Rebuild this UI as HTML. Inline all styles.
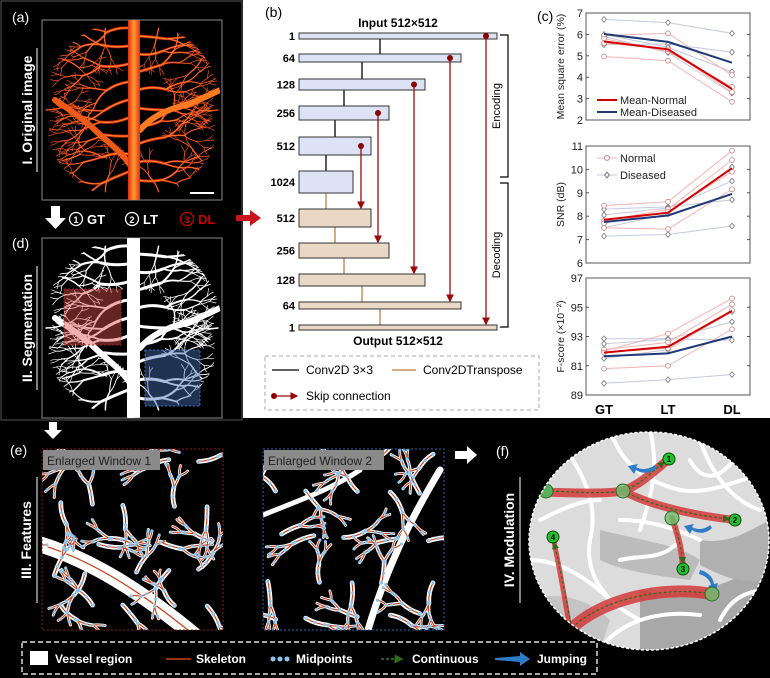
<!DOCTYPE html>
<html><head><meta charset="utf-8">
<style>
html,body{margin:0;padding:0;background:#000;}
svg{display:block;font-family:"Liberation Sans",Arial,sans-serif;}
</style></head>
<body>
<svg id="fig" width="770" height="678" viewBox="0 0 770 678" xmlns="http://www.w3.org/2000/svg">
<defs>
  <clipPath id="clipA"><ellipse cx="132" cy="110" rx="90" ry="90"/></clipPath>
  <clipPath id="clipD"><ellipse cx="132" cy="328" rx="90" ry="90"/></clipPath>
  <clipPath id="clipW1"><rect x="42" y="449" width="181" height="181"/></clipPath>
  <clipPath id="clipW2"><rect x="263" y="449" width="181" height="181"/></clipPath>
  <clipPath id="clipF"><ellipse cx="649" cy="541" rx="120" ry="109"/></clipPath>
  <marker id="arrR" markerWidth="6" markerHeight="6" refX="5" refY="3" orient="auto"><path d="M0,0 L6,3 L0,6 z" fill="#9b0a0a"/></marker>
  <marker id="arrG" markerWidth="6" markerHeight="6" refX="5" refY="3" orient="auto"><path d="M0,0 L6,3 L0,6 z" fill="#2f6a1f"/></marker>
  <linearGradient id="trunk" x1="0" x2="1"><stop offset="0" stop-color="#e03010"/><stop offset="0.5" stop-color="#ff9a30"/><stop offset="1" stop-color="#e03010"/></linearGradient>
</defs>

<rect x="0" y="0" width="770" height="678" fill="#000"/>
<rect x="243" y="0" width="527" height="418" fill="#fff"/>
<rect x="1" y="1" width="241" height="419" fill="none" stroke="#555" stroke-width="1"/>

<!-- Panel (a) -->
<text x="12" y="22" fill="#fff" font-size="14">(a)</text>
<g>
  <rect x="42" y="20" width="180" height="180" fill="#000" stroke="#888"/>
  <g id="treeA" clip-path="url(#clipA)" fill="none" stroke-linecap="round"></g>
  <line x1="190" y1="193" x2="214" y2="193" stroke="#fff" stroke-width="2"/>
</g>
<line x1="37" y1="48" x2="37" y2="172" stroke="#fff" stroke-width="1"/>
<text transform="translate(32,110) rotate(-90)" text-anchor="middle" fill="#fff" font-size="14" font-weight="bold">I. Original image</text>

<path d="M51,206 h9 v12 h6 l-10.5,11 l-10.5,-11 h6 z" fill="#fff"/>
<g font-size="13" font-weight="bold">
  <circle cx="76" cy="219" r="6.5" fill="none" stroke="#fff" stroke-width="1.3"/><text x="76" y="223" text-anchor="middle" fill="#fff" font-size="9">1</text>
  <text x="87" y="224" fill="#fff">GT</text>
  <circle cx="132" cy="219" r="6.5" fill="none" stroke="#fff" stroke-width="1.3"/><text x="132" y="223" text-anchor="middle" fill="#fff" font-size="9">2</text>
  <text x="143" y="224" fill="#fff">LT</text>
  <circle cx="187" cy="219" r="6.5" fill="none" stroke="#c00" stroke-width="1.3"/><text x="187" y="223" text-anchor="middle" fill="#c00" font-size="9">3</text>
  <text x="198" y="224" fill="#c00">DL</text>
</g>
<path d="M236,215 h14 v-5 l11,8 l-11,8 v-5 h-14 z" fill="#c8141a"/>

<!-- Panel (d) -->
<text x="12" y="248" fill="#fff" font-size="14">(d)</text>
<g>
  <rect x="42" y="238" width="180" height="180" fill="#000" stroke="#888"/>
  <g id="treeD" clip-path="url(#clipD)" fill="none" stroke="#fff" stroke-linecap="round"></g>
  <rect x="64" y="289" width="57" height="56" fill="rgba(220,80,80,0.45)" stroke="#a02020" stroke-dasharray="2 2"/>
  <rect x="145" y="350" width="55" height="56" fill="rgba(70,110,180,0.45)" stroke="#3a70c0" stroke-dasharray="2 2"/>
</g>
<line x1="37" y1="266" x2="37" y2="390" stroke="#fff" stroke-width="1"/>
<text transform="translate(32,328) rotate(-90)" text-anchor="middle" fill="#fff" font-size="14" font-weight="bold">II. Segmentation</text>

<!-- Panel (b) -->
<text x="265" y="17" font-size="14" fill="#000">(b)</text>
<text x="398" y="27" text-anchor="middle" font-size="12" font-weight="bold">Input 512×512</text>
<text x="398" y="345" text-anchor="middle" font-size="12" font-weight="bold">Output 512×512</text>
<g id="unet"></g>
<g fill="none" stroke="#000" stroke-width="1.2">
  <path d="M500,35 H508 V177 H500"/>
  <path d="M500,183 H508 V327 H500"/>
</g>
<text transform="translate(500,106) rotate(-90)" text-anchor="middle" font-size="11">Encoding</text>
<text transform="translate(500,255) rotate(-90)" text-anchor="middle" font-size="11">Decoding</text>
<g>
  <rect x="265" y="356" width="274" height="54" fill="none" stroke="#aaa" stroke-dasharray="4 3"/>
  <line x1="272" y1="370" x2="299" y2="370" stroke="#000" stroke-width="1.3"/>
  <text x="306" y="374" font-size="12">Conv2D 3×3</text>
  <line x1="392" y1="370" x2="416" y2="370" stroke="#c89060" stroke-width="1.5"/>
  <text x="423" y="374" font-size="12">Conv2DTranspose</text>
  <circle cx="274" cy="396" r="3" fill="#8b0000"/>
  <line x1="274" y1="396" x2="297" y2="396" stroke="#9b0a0a" stroke-width="1.3" marker-end="url(#arrR)"/>
  <text x="306" y="400" font-size="12">Skip connection</text>
</g>

<!-- Panel (c) -->
<text x="537" y="21" font-size="14">(c)</text>
<g id="charts"></g>

<!-- Bottom (e) -->
<path d="M49,422 h8 v8 h5 l-9,9 l-9,-9 h5 z" fill="#fff"/>
<text x="10" y="455" fill="#fff" font-size="14">(e)</text>
<line x1="37" y1="477" x2="37" y2="603" stroke="#fff"/>
<text transform="translate(31,540) rotate(-90)" text-anchor="middle" fill="#fff" font-size="14" font-weight="bold">III. Features</text>

<g>
  <rect x="42" y="449" width="181" height="181" fill="#000"/>
  <g id="treeW1" clip-path="url(#clipW1)" fill="none" stroke-linecap="round"></g>
  <rect x="42" y="449" width="181" height="181" fill="none" stroke="#8b1a1a" stroke-dasharray="2 2"/>
  <rect x="43" y="450" width="117" height="20" fill="#8a8a8a"/>
  <text x="47" y="465" font-size="12" fill="#222">Enlarged Window 1</text>
</g>
<g>
  <rect x="263" y="449" width="181" height="181" fill="#000"/>
  <g id="treeW2" clip-path="url(#clipW2)" fill="none" stroke-linecap="round"></g>
  <rect x="263" y="449" width="181" height="181" fill="none" stroke="#2a6ab0" stroke-dasharray="2 2"/>
  <rect x="264" y="450" width="120" height="20" fill="#8a8a8a"/>
  <text x="268" y="465" font-size="12" fill="#222">Enlarged Window 2</text>
</g>

<path d="M455,451 h12 v-5 l10,9 l-10,9 v-5 h-12 z" fill="#fff"/>
<text x="496" y="456" fill="#fff" font-size="14">(f)</text>
<line x1="520" y1="477" x2="520" y2="603" stroke="#fff"/>
<text transform="translate(514,540) rotate(-90)" text-anchor="middle" fill="#fff" font-size="14" font-weight="bold">IV. Modulation</text>

<g>
  <ellipse cx="649" cy="541" rx="120" ry="109" fill="#dcdcdc"/>
  <g clip-path="url(#clipF)">
    <path d="M640,590 C680,600 720,590 770,560 L770,650 L640,650 z" fill="#a8a8a8"/>
    <path d="M600,530 C640,540 680,545 700,560 L690,580 C650,575 620,570 600,560 z" fill="#bcbcbc"/>
    <path d="M700,540 C730,545 750,530 770,520 L770,580 C740,585 720,575 700,565 z" fill="#b0b0b0"/>
    <path d="M530,600 C560,590 590,600 610,620 L600,650 L530,650 z" fill="#c4c4c4"/>
    <g fill="none" stroke="#fff" stroke-width="4" stroke-linecap="round">
      <path d="M560,440 C580,470 600,500 590,540 C585,570 600,600 640,620"/>
      <path d="M610,430 C620,460 640,480 680,490 C710,495 740,480 770,470"/>
      <path d="M530,560 C560,560 590,580 610,600 M650,430 C660,470 650,500 640,530 M700,440 C710,470 730,500 760,510 M620,520 C650,520 680,530 700,540 M600,650 C620,620 660,610 700,615 M720,620 C730,600 745,590 770,590 M540,520 C560,510 580,500 600,500 M690,460 C700,480 720,485 740,450 M620,560 C640,555 660,560 675,545"/>
    </g>
    <g fill="none" stroke="#d43a3a" stroke-opacity="0.85" stroke-linecap="round">
      <path d="M528,492 C560,492 600,495 623,491 C640,485 655,470 669,459" stroke-width="9"/>
      <path d="M623,491 C650,505 690,515 735,520" stroke-width="8"/>
      <path d="M672,518 C678,535 682,550 683,569" stroke-width="6"/>
      <path d="M570,630 C600,600 660,585 712,594" stroke-width="12"/>
      <path d="M570,630 C565,600 560,570 553,537" stroke-width="5"/>
    </g>
    <g fill="none" stroke="#2f6a1f" stroke-width="1.2" stroke-dasharray="3 2">
      <path d="M546,491 C580,492 600,494 623,491" />
      <path d="M623,491 C640,485 652,472 664,462" marker-end="url(#arrG)"/>
      <path d="M623,491 C650,505 690,515 729,519" marker-end="url(#arrG)"/>
      <path d="M672,518 C678,535 682,550 683,563" marker-end="url(#arrG)"/>
      <path d="M572,628 C600,600 660,587 706,593"/>
      <path d="M572,628 C566,600 561,570 554,543" marker-end="url(#arrG)"/>
    </g>
    <g fill="#2e7bc8">
      <path d="M657,468 C650,474 642,474 636,470 L634,474 L628,466 L638,464 L636,467 C641,470 648,470 655,465 z"/>
      <path d="M712,528 C706,534 698,534 692,530 L690,534 L684,526 L694,524 L692,527 C697,530 704,530 710,525 z"/>
      <path d="M700,570 C708,572 713,577 714,584 L718,583 L715,592 L708,586 L711,585 C710,580 706,576 699,574 z"/>
    </g>
    <g stroke="#2a6a2a" stroke-width="1">
      <circle cx="546" cy="491" r="7" fill="#5ab05a"/>
      <circle cx="623" cy="491" r="7" fill="#6ec06e" fill-opacity="0.8"/>
      <circle cx="672" cy="518" r="7" fill="#6ec06e" fill-opacity="0.8"/>
      <circle cx="712" cy="594" r="7" fill="#6ec06e" fill-opacity="0.8"/>
    </g>
    <g stroke="#0d4a0d" stroke-width="1" fill="#22c02a">
      <circle cx="669" cy="459" r="6"/><circle cx="735" cy="520" r="6"/><circle cx="683" cy="569" r="6"/><circle cx="553" cy="537" r="6"/>
    </g>
    <g font-size="8" font-weight="bold" fill="#000" text-anchor="middle">
      <text x="669" y="462">1</text><text x="735" y="523">2</text><text x="683" y="572">3</text><text x="553" y="540">4</text>
    </g>
  </g>
  <ellipse cx="649" cy="541" rx="120" ry="109" fill="none" stroke="#fff" stroke-width="1.5" stroke-dasharray="3 2"/>
</g>

<g>
  <rect x="22" y="642" width="575" height="32" fill="none" stroke="#ddd" stroke-width="1.5" stroke-dasharray="5 3"/>
  <rect x="30" y="651" width="18" height="14" fill="#fff"/>
  <text x="55" y="663" fill="#fff" font-size="12" font-weight="bold">Vessel region</text>
  <line x1="166" y1="659" x2="191" y2="659" stroke="#d04010" stroke-width="1.5"/>
  <text x="196" y="663" fill="#fff" font-size="12" font-weight="bold">Skeleton</text>
  <circle cx="273" cy="659" r="2.5" fill="#8ec4ec"/><circle cx="280" cy="659" r="2.5" fill="#8ec4ec"/><circle cx="287" cy="659" r="2.5" fill="#8ec4ec"/>
  <text x="296" y="663" fill="#fff" font-size="12" font-weight="bold">Midpoints</text>
  <line x1="381" y1="659" x2="402" y2="659" stroke="#3a7a28" stroke-width="1.5" stroke-dasharray="3 2" marker-end="url(#arrG)"/>
  <text x="412" y="663" fill="#fff" font-size="12" font-weight="bold">Continuous</text>
  <path d="M495,658 L520,656 L520,652 L530,659 L520,666 L520,662 L495,660 z" fill="#2e7bc8"/>
  <text x="537" y="663" fill="#fff" font-size="12" font-weight="bold">Jumping</text>
</g>

<script>
// ---------- U-Net layer data ----------
const encChannels = ["1","64","128","256","512","1024"];
const decChannels = ["512","256","128","64","1"];
const encBoxes = [[33,39,497],[54,62,461],[79,90,425],[106,120,389],[137,155,371],[171,193,353]];
const decBoxes = [[209,227,371],[243,258,389],[274,286,425],[302,309,461],[325,330,497]];
// ---------- chart data ----------
const xCategories = ["GT","LT","DL"];
const mseNormal = [[5.95,6.05,4.1],[4.97,4.77,2.85],[5.8,5.2,3.55],[5.6,5.3,3.3]];
const mseDiseased = [[6.7,6.55,6.05],[5.52,5.55,5.17],[6.0,5.4,4.25],[5.9,5.15,3.25]];
const mseMeanNormal = [5.67,5.3,3.45];
const mseMeanDiseased = [6.02,5.65,4.68];
const mseTicks = [2,3,4,5,6,7];
const mseTickLabels = ["2","3","4","5","6","7"];
const snrNormal = [[8.45,8.62,10.8],[7.5,7.45,9.15],[7.8,8.3,10.4],[7.7,8.2,9.9]];
const snrDiseased = [[7.15,7.22,7.58],[8.3,8.4,8.7],[8.05,8.35,9.5],[7.5,8.1,10.1]];
const snrMeanNormal = [7.85,8.15,10.05];
const snrMeanDiseased = [7.75,8.03,8.95];
const snrTicks = [6,7,8,9,10,11];
const snrTickLabels = ["6","7","8","9","10","11"];
const fNormal = [[92.0,93.2,95.6],[90.8,91.0,93.5],[92.1,92.6,95.2],[91.9,92.2,94.8]];
const fDiseased = [[89.8,90.05,90.4],[92.85,92.85,92.75],[92.5,92.8,94.0],[91.5,92.1,94.7]];
const fMeanNormal = [91.9,92.3,94.75];
const fMeanDiseased = [91.65,91.85,93.0];
const fTicks = [89,91,93,95,97];
const fTickLabels = ["89","81","93","95","97"];

const NS = "http://www.w3.org/2000/svg";
function mk(parent, tag, attrs, text){
  const e = document.createElementNS(NS, tag);
  for (const k in attrs) e.setAttribute(k, attrs[k]);
  if (text !== undefined) e.textContent = text;
  parent.appendChild(e);
  return e;
}

// ---------- decorative vessel trees (deterministic, not data) ----------
function tree(segs, x, y, ang, len, w, depth, k){
  if (depth === 0 || len < 3) return;
  const bend = Math.sin(k * 2.3 + depth) * 0.3;
  const mx = x + Math.cos(ang + bend) * len * 0.5, my = y + Math.sin(ang + bend) * len * 0.5;
  const x2 = x + Math.cos(ang) * len, y2 = y + Math.sin(ang) * len;
  segs.push([x, y, mx, my, x2, y2, w]);
  const sp = 0.4 + 0.25 * Math.abs(Math.sin(k * 1.7));
  const a1 = ang - sp * (0.6 + 0.4 * Math.cos(k)), a2 = ang + sp * (0.6 + 0.4 * Math.sin(k * 3));
  tree(segs, x2, y2, a1, len * 0.75, Math.max(w * 0.7, 0.7), depth - 1, k * 2 + 1);
  tree(segs, x2, y2, a2, len * 0.7, Math.max(w * 0.6, 0.7), depth - 1, k * 2 + 2);
}
function buildTrees(roots){
  const segs = [];
  roots.forEach((r, i) => tree(segs, r[0], r[1], r[2], r[3], r[4], r[5], i + 1));
  return segs;
}
function drawSegs(g, segs, layers){
  layers.forEach(L => {
    segs.forEach(s => {
      const p = mk(g, 'path', {d:`M${s[0]},${s[1]} Q${s[2]},${s[3]} ${s[4]},${s[5]}`, stroke:L.color, 'stroke-width': L.w(s[6])});
      if (L.dash) p.setAttribute('stroke-dasharray', L.dash);
    });
  });
}
function discRoots(ox, oy){
  const r = [];
  for (let i = 0; i < 9; i++) {
    const yy = oy + 28 + i * 18;
    r.push([ox + 128, yy, Math.PI + 0.25 * Math.sin(i * 1.3) - 0.2, 22 + 6 * Math.abs(Math.sin(i)), 3, 5]);
    r.push([ox + 138, yy + 8, 0.2 * Math.cos(i * 1.7) - 0.1, 22 + 6 * Math.abs(Math.cos(i)), 3, 5]);
  }
  for (let i = 0; i < 10; i++) {
    const t = i / 10 * Math.PI * 2;
    r.push([ox + 132 + Math.cos(t) * 86, oy + 110 + Math.sin(t) * 86, t + Math.PI + 0.3 * Math.sin(i * 2), 18, 1.5, 4]);
  }
  return r;
}
function gridRoots(x0, y0, seed){
  const r = [];
  for (let i = 0; i < 5; i++) for (let j = 0; j < 5; j++) {
    const k = i * 5 + j + seed;
    r.push([x0 + 12 + i * 38 + 8 * Math.sin(k * 2.1), y0 + 12 + j * 38 + 8 * Math.cos(k * 1.3),
            k * 1.9, 18 + 6 * Math.abs(Math.sin(k)), 1.6, 3]);
  }
  return r;
}
(function(){
  const gA = document.getElementById('treeA');
  const sA = buildTrees(discRoots(0, 0));
  drawSegs(gA, sA, [
    {color:'#d0280e', w:v=>v*1.0},
    {color:'#ff8a30', w:v=>v*0.4}
  ]);
  mk(gA,'path',{d:'M130,165 C120,150 105,140 95,130 C85,120 70,110 55,100',stroke:'#f05a18','stroke-width':6});
  mk(gA,'path',{d:'M140,130 C150,118 165,110 185,105 C200,100 210,95 220,90',stroke:'#ff7a20','stroke-width':6});
  mk(gA,'rect',{x:128,y:20,width:12,height:180,fill:'url(#trunk)',stroke:'none'});
  const gD = document.getElementById('treeD');
  drawSegs(gD, buildTrees(discRoots(0, 218)), [{color:'#fff', w:v=>v*1.0}]);
  mk(gD,'path',{d:'M130,383 C120,368 105,358 95,348 C85,338 70,328 55,318',stroke:'#fff','stroke-width':6});
  mk(gD,'path',{d:'M140,348 C150,336 165,328 185,323 C200,318 210,313 220,308',stroke:'#fff','stroke-width':6});
  mk(gD,'rect',{x:127,y:238,width:13,height:180,fill:'#fff',stroke:'none'});
  const winLayers = [
    {color:'#fff', w:v=>v*2.2+1.2},
    {color:'#c8401a', w:v=>1.1},
    {color:'#8ec4ec', w:v=>3.2, dash:'0 10'}
  ];
  const g1 = document.getElementById('treeW1');
  mk(g1,'path',{d:'M42,545 C90,560 140,590 200,640',stroke:'#fff','stroke-width':16});
  mk(g1,'path',{d:'M42,545 C90,560 140,590 200,640',stroke:'#c8401a','stroke-width':1.2});
  drawSegs(g1, buildTrees(gridRoots(42, 449, 3)), winLayers);
  const g2 = document.getElementById('treeW2');
  mk(g2,'path',{d:'M440,470 C410,520 385,570 365,640',stroke:'#fff','stroke-width':7});
  mk(g2,'path',{d:'M263,515 C300,500 330,490 360,470',stroke:'#fff','stroke-width':5});
  drawSegs(g2, buildTrees(gridRoots(263, 449, 11)), winLayers);
})();

// ---------- U-Net ----------
(function(){
  const g = document.getElementById('unet');
  const L = 299;
  const cx = b => (L + b[2]) / 2;
  for (let i = 0; i < encBoxes.length - 1; i++) {
    const l = mk(g,'line',{x1:cx(encBoxes[i+1]),x2:cx(encBoxes[i+1]),y1:encBoxes[i][1],y2:encBoxes[i+1][0],stroke:'#000','stroke-width':1.3});
    
    
  }
  const allDec = [encBoxes[5]].concat(decBoxes);
  for (let i = 0; i < allDec.length - 1; i++) {
    const l = mk(g,'line',{x1:cx(allDec[i]),x2:cx(allDec[i]),y1:allDec[i][1],y2:allDec[i+1][0],stroke:'#c89060','stroke-width':1.5});
    
    
  }
  encBoxes.forEach((b,i)=>{
    const r = mk(g,'rect',{x:L,y:b[0],width:b[2]-L,height:b[1]-b[0],fill:'#dde3f5',stroke:'#333','stroke-width':1});
    
    
    const t = mk(g,'text',{x:295,y:(b[0]+b[1])/2+4,'text-anchor':'end','font-size':11,'font-weight':'bold'},encChannels[i]);
    
    
  });
  decBoxes.forEach((b,i)=>{
    const r = mk(g,'rect',{x:L,y:b[0],width:b[2]-L,height:b[1]-b[0],fill:'#ead8c6',stroke:'#333','stroke-width':1});
    
    
    const t = mk(g,'text',{x:295,y:(b[0]+b[1])/2+4,'text-anchor':'end','font-size':11,'font-weight':'bold'},decChannels[i]);
    
    
  });
  const skipX = [486,450,414,378,361];
  for (let i = 0; i < 5; i++) {
    const e = encBoxes[i], d = decBoxes[4-i];
    const y0 = (e[0]+e[1])/2;
    const l = mk(g,'line',{x1:skipX[i],x2:skipX[i],y1:y0,y2:d[0]-1,stroke:'#9b0a0a','stroke-width':1.3,'marker-end':'url(#arrR)'});
    
    
    const c = mk(g,'circle',{cx:skipX[i],cy:y0,r:3,fill:'#8b0000'});
    
    
  }
})();

// ---------- charts ----------
const chartG = document.getElementById('charts');
const X0 = 586, X1 = 750;
function xScale(i){ return 604 + i * 64; }
function makeY(top, bottom, min, max){ return v => bottom - (v - min) / (max - min) * (bottom - top); }

function drawChart(name, top, bottom, min, max, ticks, tickLabels, normal, diseased, meanN, meanD, ylabel){
  const y = makeY(top, bottom, min, max);
  const g = mk(chartG,'g',{});
  
  
  const frame = mk(g,'rect',{x:X0,y:top,width:X1-X0,height:bottom-top,fill:'#fff',stroke:'#555','stroke-width':1});
  
  
  ticks.forEach((t,i)=>{
    const tk = mk(g,'line',{x1:X0,x2:X0+3,y1:y(t),y2:y(t),stroke:'#555'});
    
    
    const tk2 = mk(g,'line',{x1:X1,x2:X1-3,y1:y(t),y2:y(t),stroke:'#555'});
    
    
    const tl = mk(g,'text',{x:X0-3,y:y(t)+4,'text-anchor':'end','font-size':11,fill:'#222'},tickLabels[i]);
    
    
  });
  const yl = mk(g,'text',{transform:`translate(${X0-22},${(top+bottom)/2}) rotate(-90)`,'text-anchor':'middle','font-size':10.5,fill:'#222'},ylabel);
  
  
  const pts = arr => arr.map((v,i)=>xScale(i)+','+y(v)).join(' ');
  diseased.forEach(s=>{
    const p = mk(g,'polyline',{points:pts(s),fill:'none',stroke:'#c4cadc','stroke-width':1});
    
    
    s.forEach((v,i)=>{
      const cx = xScale(i), cy = y(v);
      const m = mk(g,'path',{d:`M${cx},${cy-2.8} L${cx+2.4},${cy} L${cx},${cy+2.8} L${cx-2.4},${cy} z`,fill:'#fff',stroke:'#777','stroke-width':0.8});
      
      
    });
  });
  normal.forEach(s=>{
    const p = mk(g,'polyline',{points:pts(s),fill:'none',stroke:'#f4b4b4','stroke-width':1});
    
    
    s.forEach((v,i)=>{
      const m = mk(g,'circle',{cx:xScale(i),cy:y(v),r:2.4,fill:'#fff',stroke:'#c88080','stroke-width':0.8});
      
      
    });
  });
  const mn = mk(g,'polyline',{points:pts(meanN),fill:'none',stroke:'#d40000','stroke-width':2});
  
  
  const md = mk(g,'polyline',{points:pts(meanD),fill:'none',stroke:'#1f3a78','stroke-width':2});
  
  
}

drawChart('mse', 13, 120, 2, 7, mseTicks, mseTickLabels, mseNormal, mseDiseased, mseMeanNormal, mseMeanDiseased, 'Mean square error (%)');
drawChart('snr', 146, 263, 6, 11, snrTicks, snrTickLabels, snrNormal, snrDiseased, snrMeanNormal, snrMeanDiseased, 'SNR (dB)');
drawChart('fscore', 278, 395, 89, 97, fTicks, fTickLabels, fNormal, fDiseased, fMeanNormal, fMeanDiseased, 'F-score (×10⁻²)');

xCategories.forEach((c,i)=>{
  const t = mk(chartG,'text',{x:xScale(i),y:414,'text-anchor':'middle','font-size':13,'font-weight':'bold'},c);
  
  
});

(function(){
  const g = mk(chartG,'g',{'font-size':11,fill:'#222'});
  
  
  let e;
  e = mk(g,'line',{x1:597,x2:617,y1:100,y2:100,stroke:'#d40000','stroke-width':2});
   
  mk(g,'text',{x:620,y:104},'Mean-Normal');
  e = mk(g,'line',{x1:597,x2:617,y1:112,y2:112,stroke:'#1f3a78','stroke-width':2});
   
  mk(g,'text',{x:620,y:116},'Mean-Diseased');
  e = mk(g,'line',{x1:597,x2:617,y1:158,y2:158,stroke:'#f4b4b4','stroke-width':1});
   
  mk(g,'circle',{cx:607,cy:158,r:2.4,fill:'#fff',stroke:'#c88080'});
  mk(g,'text',{x:620,y:162},'Normal');
  e = mk(g,'line',{x1:597,x2:617,y1:175,y2:175,stroke:'#c4cadc','stroke-width':1});
   
  mk(g,'path',{d:'M607,172.2 L609.4,175 L607,177.8 L604.6,175 z',fill:'#fff',stroke:'#777'});
  mk(g,'text',{x:620,y:179},'Diseased');
})();
</script>
</svg>
</body></html>
